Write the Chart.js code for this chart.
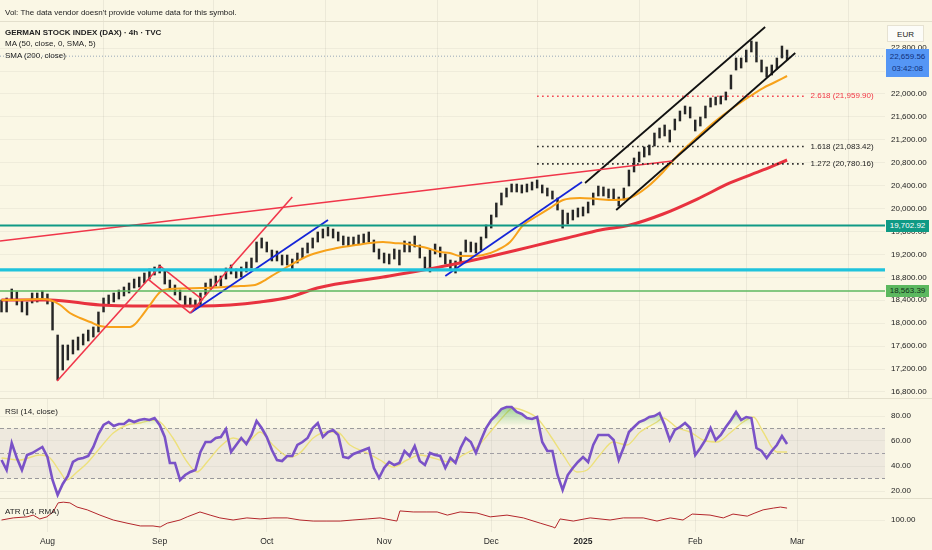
<!DOCTYPE html>
<html><head><meta charset="utf-8">
<script src="https://cdn.jsdelivr.net/npm/chart.js@4.4.1/dist/chart.umd.min.js"></script>
<style>
html,body{margin:0;padding:0;background:#faf7e5;}
#wrap{position:relative;width:932px;height:550px;overflow:hidden;background:#faf7e5;font-family:"Liberation Sans",Arial,sans-serif;}
canvas{position:absolute;left:0;}
.t{position:absolute;font-size:8px;color:#222;white-space:nowrap;line-height:10px;}
.b{font-weight:bold;}
.sep{position:absolute;left:0;width:932px;height:1px;background:#e3dfcc;}
.badge{position:absolute;left:886px;width:43px;font-size:8px;line-height:12px;height:12px;text-align:center;white-space:nowrap;}
</style></head><body>
<div id="wrap">
<canvas id="cPrice" width="932" height="398" style="top:0;width:932px;height:398px"></canvas>
<canvas id="cRsi" width="932" height="100" style="top:398px;width:932px;height:100px"></canvas>
<canvas id="cAtr" width="932" height="52" style="top:498px;width:932px;height:52px"></canvas>
<div class="sep" style="top:21px"></div>
<div class="sep" style="top:398px"></div>
<div class="sep" style="top:498px"></div>
<div class="t" style="left:5px;top:8px">Vol: The data vendor doesn't provide volume data for this symbol.</div>
<div class="t b" style="left:5px;top:28px">GERMAN STOCK INDEX (DAX) · 4h · TVC</div>
<div class="t" style="left:5px;top:39px">MA (50, close, 0, SMA, 5)</div>
<div class="t" style="left:5px;top:51px">SMA (200, close)</div>
<div class="t" style="left:5px;top:407px">RSI (14, close)</div>
<div class="t" style="left:5px;top:507px">ATR (14, RMA)</div>
<div class="t" style="left:887px;top:25px;width:37px;height:17px;line-height:17px;text-align:center;background:#fcfcf8;border:1px solid #e6e2d2;box-sizing:border-box;">EUR</div>
<div id="fib0" class="t"></div><div id="fib1" class="t"></div><div id="fib2" class="t"></div>
<div id="bTeal" class="badge" style="background:#0f9a85;color:#fff;"></div>
<div id="bGreen" class="badge" style="background:#5cb85f;color:#12301a;"></div>
<div id="bLast" class="badge" style="background:#5596f5;color:#10307a;height:28px;line-height:12px;padding-top:2px;box-sizing:border-box;"></div>
</div>
<script>
// ---------- DATA ----------
const monthIdx = [9, 31, 52, 75, 96, 114, 136, 156];
const monthLabels = ['Aug','Sep','Oct','Nov','Dec','2025','Feb','Mar'];
const priceTicks = [16800,17200,17600,18000,18400,18800,19200,19600,20000,20400,20800,21200,21600,22000,22400,22800];
const rsiTicks = [20,40,60,80];
const atrTicks = [100];
const rsiLevels = [70,50,30];

const priceHigh = [18405,18440,18597,18545,18405,18370,18527,18527,18562,18510,
18405,17794,17620,17620,17707,17759,17812,17881,17934,18196,
18440,18492,18527,18579,18632,18702,18771,18806,18876,18946,
18981,19016,18928,18754,18667,18579,18475,18440,18405,18527,
18702,18771,18824,18824,18963,19016,18946,18981,19068,19138,
19417,19487,19417,19277,19260,19190,19190,19120,19225,19312,
19400,19487,19592,19644,19679,19644,19592,19522,19504,19504,
19539,19557,19592,19452,19295,19225,19208,19295,19277,19435,
19417,19522,19365,19155,19277,19382,19330,19208,19103,19086,
19243,19452,19417,19400,19504,19714,19888,20098,20272,20359,
20429,20429,20412,20429,20464,20499,20412,20359,20307,20185,
19975,19923,19975,20010,20028,20115,20272,20394,20377,20342,
20342,20202,20359,20673,20883,20988,21075,21110,21319,21406,
21459,21371,21563,21703,21790,21773,21546,21598,21790,21930,
21947,21965,22035,22331,22628,22628,22767,22925,22907,22593,
22471,22506,22628,22837,22767];
const priceLow = [18196,18196,18405,18318,18196,18143,18353,18370,18405,18335,
17881,17009,17183,17358,17463,17532,17620,17690,17759,17847,
18196,18318,18370,18422,18475,18527,18614,18632,18702,18771,
18841,18876,18684,18579,18492,18405,18300,18283,18248,18318,
18492,18597,18649,18649,18771,18859,18789,18806,18894,18963,
19068,19312,19243,19086,19086,19016,19016,18946,19051,19138,
19225,19312,19417,19487,19522,19487,19435,19365,19347,19365,
19382,19400,19417,19243,19120,19051,19033,19120,19016,19243,
19243,19330,19138,18928,18894,19208,19155,19033,18928,18876,
19033,19243,19243,19225,19277,19487,19661,19853,20063,20202,
20290,20290,20272,20290,20324,20359,20272,20220,20167,19975,
19661,19731,19801,19853,19871,19923,20063,20220,20220,20185,
20150,20045,20150,20394,20639,20813,20900,20935,21092,21232,
21267,21162,21371,21529,21651,21581,21354,21441,21581,21773,
21808,21825,21895,22087,22418,22453,22558,22733,22558,22384,
22296,22331,22436,22628,22593];
const lastPrice = 22659.56;
const lastTime = '03:42:08';

const ma50Idx = [0,3.6,7.5,9.5,11.5,13.4,15.4,17.4,19.3,21.3,25.2,26.2,27.2,29.1,31.1,33,38.9,46.8,49.7,51.7,53.6,55.6,60.5,65.8,68.3,72.3,74.8,76.8,79.5,81.5,83.4,86,87.9,89.9,91.9,94.4,97.2,99.7,102.3,105,107.5,110.1,113.4,116.8,119.9,123.2,126.6,129.7,133,136.4,139.5,142.8,146.2,149.3,151.3,154];
const ma50Val = [18405,18405,18422,18405,18318,18178,18091,18021,17951,17934,17934,17986,18091,18318,18545,18597,18614,18649,18667,18754,18859,18963,19190,19312,19347,19400,19417,19400,19382,19347,19312,19243,19225,19173,19173,19190,19277,19417,19714,19871,20010,20150,20185,20167,20150,20185,20377,20639,20970,21249,21494,21721,21930,22104,22192,22314];
const sma200Idx = [0,9.5,19.3,31.1,38.9,44.8,50.7,56.6,61.9,74.8,87.9,94.4,101.1,107.5,110.9,117.4,123.2,129.7,136.4,142.8,149.3,154];
const sma200Val = [18405,18405,18318,18300,18300,18318,18370,18457,18614,18806,19016,19138,19277,19417,19487,19627,19714,19906,20167,20447,20674,20848];

const rsiVal = [44.8,36.8,58.4,46.4,36.8,48.8,50.4,52.8,55.2,47.2,
28.8,16.8,25.6,32,43.2,45.6,46.4,48,55.2,65.6,
72.8,75.2,72,73.6,73.6,76.8,75.2,76.8,77.6,76.8,
78.4,72.8,63.2,42.4,42.4,28.8,32.8,35.2,36.8,51.2,
59.2,59.2,62.4,63.2,69.6,51.2,56.8,62.4,57.6,64.8,
76,70.4,63.2,52.8,44.8,44,48,48,56.8,59.2,
62.4,70.4,74.4,63.2,67.2,68.8,64.8,47.2,46.4,49.6,
51.2,52.8,54.4,38.4,30.4,38.4,43.2,40.8,42.4,52,
48,56,44,40.8,50.4,48.8,48,38.4,46.4,42.4,
54.4,62.4,59.2,50.4,60.8,70.4,76.8,80.8,85.6,87.2,
87.2,83.2,81.6,78.4,77.6,79.2,59.2,52,52,32.8,
20.8,32.8,38.4,43.2,47.2,43.2,56.8,64.8,64.8,64.8,
60.8,44.8,55.2,67.2,71.2,75.2,76.8,79.2,80,82.4,
72.8,60.8,68.8,71.2,74.4,70.4,48.8,54.4,60.8,70.4,
60.8,64.8,71.2,76.8,83.2,76.8,79.2,78.4,54.4,52,
46.4,52,56.8,64,57.6];
const rsiMaIdx = [0,3.6,7.5,9.5,11.5,12.8,14.8,16.8,19.3,21.9,24.6,27.2,29.7,31.1,33.6,36.4,38.3,40.3,42.8,45.4,48.1,50.7,53.2,56.6,58.5,61.1,63.8,65.8,68.3,71.7,74.2,76.8,79.5,82.1,84.6,87.9,90.5,93.2,95.8,98.3,100.3,103,105,107.5,110.1,112.8,114.8,117.3,119.9,122.6,125.2,128.5,129.7,132.5,135,137.5,140.3,142.8,145.4,147.4,149.3,152,154];
const rsiMaVal = [46.4,44.8,48.8,46.4,35.2,28.8,35.2,42.4,54.4,66.4,72.8,74.4,76.8,75.2,62.4,43.2,35.2,43.2,55.2,62.4,59.2,67.2,56.8,47.2,50.4,62.4,67.2,67.2,56.8,50.4,44.8,39.2,44.8,48.8,46.4,43.2,48.8,55.2,67.2,79.2,86.4,83.2,78.4,64.8,48.8,35.2,36.8,48.8,59.2,56.8,67.2,75.2,78.4,70.4,67.2,60.8,59.2,66.4,75.2,79.2,67.2,51.2,51.2];

const atrIdx = [0,2.3,5,6.2,7.5,8.9,10.1,11.1,12.1,13.4,14.8,16.8,19.3,21.9,24.6,27.2,29.7,31.1,32.5,35,36.4,38.9,40.9,42.8,45.4,48.1,50.7,53.2,56,58.5,61.1,63.8,66.4,68.9,71.7,74.2,77.5,78.1,80.7,83.4,85.4,87.4,89.9,93.2,95.8,99.1,102.3,105.6,108.1,108.5,109.5,112.1,115.4,119.3,121.9,125.8,128.5,131.1,133.6,135.4,138.9,141.5,143.4,146.2,147.7,149.3,151.3,152.7,154];
const atrVal = [100,106,109,114,103,109,123,149,151,149,137,129,114,100,91,83,83,80,91,100,109,123,114,106,100,106,103,106,106,100,97,97,97,100,103,106,97,126,123,123,123,114,123,120,109,114,106,91,80,77,103,97,106,100,106,106,97,106,100,117,114,106,117,111,120,129,134,137,134];

const tealLevel = 19702.92;
const cyanLevel = 18930;
const greenLevel = 18563.39;
const fibLevels = [21959.90, 21083.42, 20780.16];
const fibNames = ['2.618','1.618','1.272'];
const fibStartIdx = 105, fibEndIdx = 157.3, fibTextIdx = 158.6;

const trendRed = [[-0.3,19435,131.5,20831],[10.9,16992,31.1,18998],[31.1,18998,39.5,18405],[28.7,18771,37,18178],[37,18178,57,20202]];
const trendBlue = [[37,18178,64,19801],[87,18824,113.8,20464]];
const trendBlack = [[120.5,19976,155.6,22715],[114.4,20447,149.7,23169]];

// ---------- SETUP ----------
const FONT = '"Liberation Sans", Arial, sans-serif';
const X_MIN = -0.3, X_MAX = 173.2;
const fmt = v => Number(v).toLocaleString('en-US',{minimumFractionDigits:2,maximumFractionDigits:2});
const pts = (xs, ys) => xs.map((x,i)=>({x, y: ys[i]}));
const hline = (v, color, width, dash, x0 = X_MIN, x1 = X_MAX) => ({type:'line', data:[{x:x0,y:v},{x:x1,y:v}], borderColor:color, borderWidth:width, borderDash:dash||[], pointRadius:0, fill:false, order:0});
const seg = (s, color, width) => ({type:'line', data:[{x:s[0],y:s[1]},{x:s[2],y:s[3]}], borderColor:color, borderWidth:width, pointRadius:0, fill:false, order:0});

function xScale(show){
  return {type:'linear', min:X_MIN, max:X_MAX, offset:false,
    afterBuildTicks: s => { s.ticks = monthIdx.map(v=>({value:v})); },
    afterFit: s => { s.paddingLeft = 0; s.paddingRight = 0; s.height = show ? 18 : 0; },
    grid:{color:'rgba(0,0,0,0.055)', drawTicks:false}, border:{display:false},
    ticks:{display:show, autoSkip:false, maxRotation:0, padding:5, color:'#2a2a2a',
      font: c => ({family:FONT, size:8.5, weight:(c.tick && c.tick.label==='2025') ? 'bold' : 'normal'}),
      callback:(v,i)=>monthLabels[i]}
  };
}
function yScale(min, max, ticks, fmtFn){
  return {position:'right', min, max,
    afterBuildTicks: s => { s.ticks = ticks.map(v=>({value:v})); },
    afterFit: s => { s.width = 47; s.paddingTop = 0; s.paddingBottom = 0; },
    grid:{color:'rgba(0,0,0,0.045)', drawTicks:false}, border:{display:false},
    ticks:{padding:6, color:'#222', font:{family:FONT, size:8}, callback: fmtFn}
  };
}
const baseOpts = {responsive:false, animation:false, events:[], layout:{padding:0},
  plugins:{legend:{display:false}, tooltip:{enabled:false}}};

// ---------- PRICE ----------
const priceDatasets = [
  {type:'bar', data: priceHigh.map((h,i)=>({x:i, y:[priceLow[i], h]})), backgroundColor:'#262626', barThickness:1.8, grouped:false, order:9},
  {type:'line', data: pts(sma200Idx, sma200Val), borderColor:'#e8323f', borderWidth:3, pointRadius:0, cubicInterpolationMode:'monotone', order:6},
  {type:'line', data: pts(ma50Idx, ma50Val), borderColor:'#f7a21b', borderWidth:2, pointRadius:0, cubicInterpolationMode:'monotone', order:5},
  hline(lastPrice, 'rgba(70,100,150,0.55)', 1, [1,2]),
  hline(tealLevel, '#0f9a85', 2),
  hline(cyanLevel, '#1fc3dc', 3.2),
  hline(greenLevel, '#5cb85f', 1.6),
  hline(fibLevels[0], '#f23645', 1.6, [1.5,3.5], fibStartIdx, fibEndIdx),
  hline(fibLevels[1], '#1a1a1a', 1.6, [1.5,3.5], fibStartIdx, fibEndIdx),
  hline(fibLevels[2], '#1a1a1a', 1.6, [1.5,3.5], fibStartIdx, fibEndIdx),
  ...trendRed.map(s=>seg(s,'#f0364a',1.6)),
  ...trendBlue.map(s=>seg(s,'#1525d8',1.8)),
  ...trendBlack.map(s=>seg(s,'#111111',1.8))
];
const priceChart = new Chart(document.getElementById('cPrice'), {
  type:'line', data:{datasets:priceDatasets},
  options:{...baseOpts, scales:{x:xScale(false), y:yScale(16695, 23640, priceTicks, v=>fmt(v))}}
});

// ---------- RSI ----------
const rsiChart = new Chart(document.getElementById('cRsi'), {
  type:'line',
  data:{datasets:[
    {data: rsiVal.map((v,i)=>({x:i,y:v})), borderColor:'#7a52c7', borderWidth:2.6, pointRadius:0, order:0,
     fill:{target:{value:70}, below:'rgba(0,0,0,0)'},
     backgroundColor: c => { const ch = c.chart; if(!ch.chartArea) return 'rgba(0,0,0,0)'; const y = ch.scales.y;
       const g = ch.ctx.createLinearGradient(0, y.getPixelForValue(88), 0, y.getPixelForValue(72));
       g.addColorStop(0,'rgba(76,175,80,0.55)'); g.addColorStop(1,'rgba(76,175,80,0)'); return g; }},
    {data: pts(rsiMaIdx, rsiMaVal), borderColor:'#ede07c', borderWidth:1.4, pointRadius:0, cubicInterpolationMode:'monotone', order:1},
    {...hline(rsiLevels[0], '#9b9b9b', 1, [4,3]), order:3, fill:'+2', backgroundColor:'rgba(120,105,150,0.09)'},
    {...hline(rsiLevels[1], '#a5a5a5', 1, [4,3]), order:3},
    {...hline(rsiLevels[2], '#9b9b9b', 1, [4,3]), order:3}
  ]},
  options:{...baseOpts, scales:{x:xScale(false), y:yScale(14.4, 94.4, rsiTicks, v=>fmt(v))}}
});

// ---------- ATR ----------
const atrChart = new Chart(document.getElementById('cAtr'), {
  type:'line',
  data:{datasets:[{data: pts(atrIdx, atrVal), borderColor:'#b3262b', borderWidth:1, pointRadius:0}]},
  options:{...baseOpts, scales:{x:xScale(true), y:yScale(65.7, 162.9, atrTicks, v=>fmt(v))}}
});

// ---------- TEXT OVERLAYS positioned through the scales ----------
(function(){
  const ys = priceChart.scales.y, xs = priceChart.scales.x;
  const place = (id, v, h, txt) => { const el = document.getElementById(id); el.innerHTML = txt; el.style.top = (ys.getPixelForValue(v) - h) + 'px'; };
  place('bTeal', tealLevel, 6, fmt(tealLevel));
  place('bGreen', greenLevel, 6, fmt(greenLevel));
  place('bLast', lastPrice, 7, fmt(lastPrice) + '<br>' + lastTime);
  fibLevels.forEach((v,i)=>{
    const el = document.getElementById('fib'+i);
    el.textContent = fibNames[i] + ' (' + fmt(v) + ')';
    el.style.left = xs.getPixelForValue(fibTextIdx) + 'px';
    el.style.top = (ys.getPixelForValue(v) - 5) + 'px';
    el.style.color = i === 0 ? '#f23645' : '#222';
  });
})();
</script>
</body></html>
